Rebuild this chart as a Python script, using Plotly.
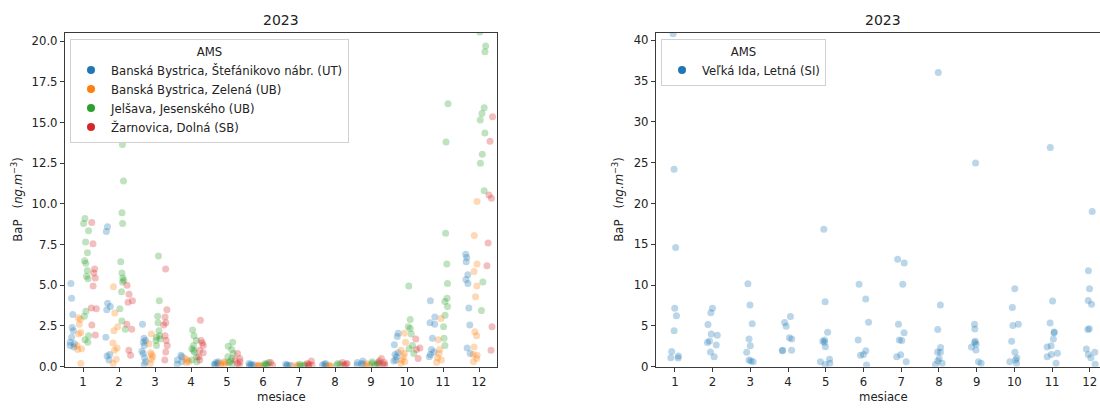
import plotly.graph_objects as go

# Monthly BaP concentrations (ng.m-3), one list of samples per month (Jan..Dec)
months = list(range(1, 13))

bb_stefanikovo = [
    [5.1, 4.2, 3.2, 2.4, 2.2, 1.8, 1.5, 1.4, 1.3, 1.2],
    [8.6, 8.3, 3.9, 3.7, 3.5, 1.8, 0.75, 0.65, 0.4],
    [2.6, 1.75, 1.6, 1.5, 1.3, 0.95, 0.8, 0.55, 0.3, 0.15],
    [0.7, 0.6, 0.4, 0.3, 0.15],
    [0.3, 0.25, 0.2, 0.15, 0.1],
    [0.2, 0.15, 0.1, 0.1, 0.05],
    [0.15, 0.1, 0.08, 0.05],
    [0.2, 0.15, 0.1, 0.05],
    [0.35, 0.25, 0.2, 0.15, 0.1],
    [2.05, 1.85, 1.35, 0.85, 0.75, 0.6, 0.4, 0.35],
    [4.05, 3.05, 2.7, 2.6, 1.75, 1.05, 0.9, 0.75, 0.6],
    [6.9, 6.7, 6.45, 5.65, 5.35, 5.1, 3.6, 2.55, 1.15, 0.8],
]

bb_zelena = [
    [3.0, 2.9, 2.6, 2.1, 2.0, 1.3, 1.1, 1.05, 0.2],
    [4.9, 3.3, 2.45, 2.2, 1.45, 1.15, 1.0, 0.45, 0.2],
    [2.0, 1.4, 0.85, 0.75, 0.6, 0.45, 0.2],
    [0.5, 0.4, 0.3, 0.25],
    [0.3, 0.25, 0.2, 0.15, 0.1],
    [0.1, 0.05, 0.05, 0.03],
    [0.1, 0.05, 0.03],
    [0.08, 0.05, 0.03],
    [0.2, 0.1, 0.05],
    [2.05, 1.5, 1.0, 0.8, 0.6, 0.4, 0.3, 0.2],
    [2.95, 1.65, 1.05, 0.8, 0.55, 0.4, 0.25],
    [10.15, 8.05, 6.3, 5.85, 4.95, 4.3, 2.15, 1.9, 1.2, 0.75, 0.7, 0.5, 0.3],
]

jelsava = [
    [9.1, 8.8, 8.35, 7.65, 7.0, 6.5, 6.35, 5.9, 5.55, 5.4, 3.4, 3.1, 1.9, 1.65, 1.5],
    [13.65, 11.4, 9.45, 8.8, 6.45, 5.75, 5.45, 5.3, 5.2, 4.6, 3.55, 2.8, 2.3],
    [6.8, 4.05, 3.1, 2.7, 2.2, 1.9, 1.8, 1.7, 1.6, 1.3],
    [2.25, 1.9, 1.6, 1.3, 1.1, 1.0, 0.9, 0.6, 0.4, 0.3],
    [1.5, 1.25, 1.05, 0.8, 0.6, 0.5, 0.35, 0.25, 0.15],
    [0.25, 0.2, 0.15, 0.1, 0.1],
    [0.15, 0.1, 0.08, 0.05],
    [0.2, 0.15, 0.1],
    [0.3, 0.25, 0.2, 0.15, 0.1],
    [4.95, 2.9, 2.45, 2.35, 2.0, 1.3, 1.1, 0.8],
    [16.15, 13.8, 8.2, 6.3, 5.1, 4.2, 4.0, 3.7, 3.15, 2.45, 1.75, 1.3],
    [20.55, 19.7, 19.35, 15.9, 15.55, 15.15, 14.35, 13.05, 12.5, 10.8, 5.2, 3.45],
]

zarnovica = [
    [8.85, 7.55, 6.0, 5.75, 5.45, 4.95, 3.6, 3.55, 2.55, 1.95],
    [5.0, 4.45, 4.05, 3.95, 2.6, 2.3, 1.0, 0.7],
    [6.0, 3.5, 3.05, 2.7, 2.55, 1.9, 1.6, 1.3, 0.9, 0.4],
    [2.85, 1.6, 1.45, 1.3, 1.0, 0.85, 0.6, 0.4],
    [0.8, 0.5, 0.4, 0.3, 0.2, 0.1],
    [0.25, 0.1],
    [0.35, 0.2, 0.15, 0.1, 0.05],
    [0.25, 0.2, 0.15, 0.1],
    [0.5, 0.35, 0.25, 0.2, 0.15, 0.1],
    [1.7, 1.15, 1.05, 0.5],
    [],
    [15.35, 13.85, 10.55, 10.35, 7.6, 6.2, 2.45, 1.0],
]

velka_ida = [
    [40.8, 24.2, 14.6, 7.15, 6.25, 4.4, 1.85, 1.3, 1.1, 1.05],
    [7.15, 6.6, 5.15, 4.0, 3.85, 3.15, 2.95, 2.65, 1.8, 1.2],
    [10.15, 7.55, 5.25, 3.4, 2.55, 1.75, 0.8, 0.7, 0.6],
    [6.15, 5.4, 4.95, 3.55, 3.4, 2.0, 2.0, 1.95],
    [16.85, 7.95, 4.2, 3.25, 3.1, 3.0, 2.45, 0.9, 0.6, 0.4, 0.25],
    [10.1, 8.3, 5.45, 3.25, 1.95, 1.5, 1.4, 0.2],
    [13.15, 12.7, 10.1, 5.2, 4.15, 3.25, 3.2, 1.45, 1.2, 0.6],
    [36.05, 7.55, 4.55, 2.35, 1.8, 1.75, 1.0, 0.7, 0.4, 0.25],
    [24.95, 5.2, 4.6, 3.1, 2.95, 2.75, 2.4, 2.05, 0.6, 0.4],
    [9.55, 7.25, 5.2, 5.05, 3.1, 1.75, 1.05, 0.8, 0.6, 0.4],
    [26.85, 8.05, 5.35, 4.25, 4.15, 3.4, 2.55, 2.4, 1.65, 1.5, 1.2, 0.4],
    [19.0, 11.75, 9.55, 8.1, 7.65, 4.65, 4.55, 2.15, 1.75, 1.5, 1.1, 0.3],
]

left_names = [
    "Banská Bystrica, Štefánikovo nábr. (UT)",
    "Banská Bystrica, Zelená (UB)",
    "Jelšava, Jesenského (UB)",
    "Žarnovica, Dolná (SB)",
]
left_series = [bb_stefanikovo, bb_zelena, jelsava, zarnovica]
right_name = "Veľká Ida, Letná (SI)"

colors = ["#1f77b4", "#ff7f0e", "#2ca02c", "#d62728"]
FONT = "DejaVu Sans"
W, H = 1100, 410


def flatten(series):
    xs, ys = [], []
    for m, vals in zip(months, series):
        xs.extend([m] * len(vals))
        ys.extend(vals)
    return xs, ys


def strip(series, color, xa, ya, jitter, align, offset):
    xs, ys = flatten(series)
    return go.Box(
        x=xs, y=ys, xaxis=xa, yaxis=ya,
        alignmentgroup=align, offsetgroup=offset,
        boxpoints="all", jitter=jitter, pointpos=0,
        fillcolor="rgba(0,0,0,0)",
        line=dict(color="rgba(0,0,0,0)", width=0),
        whiskerwidth=0,
        marker=dict(color=color, opacity=0.3, size=7, line=dict(width=0)),
        hoveron="points", showlegend=False,
    )


def legend_dot(name, color, xa, ya, legend):
    return go.Scatter(
        x=[None], y=[None], xaxis=xa, yaxis=ya, mode="markers",
        marker=dict(color=color, size=8), name=name, legend=legend,
    )


fig = go.Figure()
for i, (name, series, color) in enumerate(zip(left_names, left_series, colors)):
    fig.add_trace(strip(series, color, "x", "y", 0.9, "left", f"s{i}"))
for name, color in zip(left_names, colors):
    fig.add_trace(legend_dot(name, color, "x", "y", "legend"))

fig.add_trace(strip(velka_ida, colors[0], "x2", "y2", 0.42, "right", "r0"))
fig.add_trace(legend_dot(right_name, colors[0], "x2", "y2", "legend2"))

# pixel geometry of the two panels
top_px, bottom_px = 33.5, 373.0
ydom = [1 - bottom_px / H, 1 - top_px / H]
x1_dom = [65 / W, 497 / W]
x2_dom = [656 / W, 1.0]

axis_common = dict(
    showline=True, linecolor="#3a3a3a", linewidth=1.2,
    ticks="outside", ticklen=4, tickwidth=1, tickcolor="#3a3a3a",
    showgrid=False, zeroline=False,
    tickfont=dict(family=FONT, size=11.7, color="#222"),
)

fig.update_layout(
    width=W, height=H,
    margin=dict(l=0, r=0, t=0, b=0),
    plot_bgcolor="white", paper_bgcolor="white",
    boxmode="group", boxgap=0.2, boxgroupgap=0.0,
    font=dict(family=FONT, size=11.7, color="#222"),
    xaxis=dict(domain=x1_dom, anchor="y", type="category",
               categoryorder="array", categoryarray=months,
               range=[-0.5, 11.5], mirror=True, **axis_common),
    yaxis=dict(domain=ydom, anchor="x", range=[0, 20.5], dtick=2.5,
               tickformat=".1f", mirror=True, **axis_common),
    xaxis2=dict(domain=x2_dom, anchor="y2", type="category",
                categoryorder="array", categoryarray=months,
                range=[-0.5, 11.27], mirror=True, **axis_common),
    yaxis2=dict(domain=ydom, anchor="x2", range=[0, 40.9], dtick=5,
                mirror=False, **axis_common),
    legend=dict(
        x=70 / W, y=1 - 40 / H, xanchor="left", yanchor="top",
        bgcolor="rgba(255,255,255,0.85)", bordercolor="#d0d0d0", borderwidth=1,
        font=dict(family=FONT, size=11.7, color="#222"),
        title=dict(text="AMS", side="top center",
                   font=dict(family=FONT, size=11.7, color="#222")),
    ),
    legend2=dict(
        x=661 / W, y=1 - 40 / H, xanchor="left", yanchor="top",
        bgcolor="rgba(255,255,255,0.85)", bordercolor="#d0d0d0", borderwidth=1,
        font=dict(family=FONT, size=11.7, color="#222"),
        title=dict(text="AMS", side="top center",
                   font=dict(family=FONT, size=11.7, color="#222")),
    ),
)

ytitle = "BaP&nbsp;&nbsp;&nbsp;(<i>ng.m</i><sup>−3</sup>)"
mid_y = 1 - (top_px + bottom_px) / 2 / H
for cx, lx in [(281, 17), (883, 618)]:
    fig.add_annotation(text="2023", x=cx / W, y=1 - 20 / H, xref="paper", yref="paper",
                       xanchor="center", yanchor="middle", showarrow=False,
                       font=dict(family=FONT, size=14, color="#222"))
    fig.add_annotation(text="mesiace", x=cx / W, y=1 - 404 / H, xref="paper", yref="paper",
                       xanchor="center", yanchor="middle", showarrow=False,
                       font=dict(family=FONT, size=11.7, color="#222"))
    fig.add_annotation(text=ytitle, x=lx / W, y=mid_y, xref="paper", yref="paper",
                       xanchor="center", yanchor="middle", textangle=-90, showarrow=False,
                       font=dict(family=FONT, size=11.7, color="#222"))

fig.write_html("out.html")
